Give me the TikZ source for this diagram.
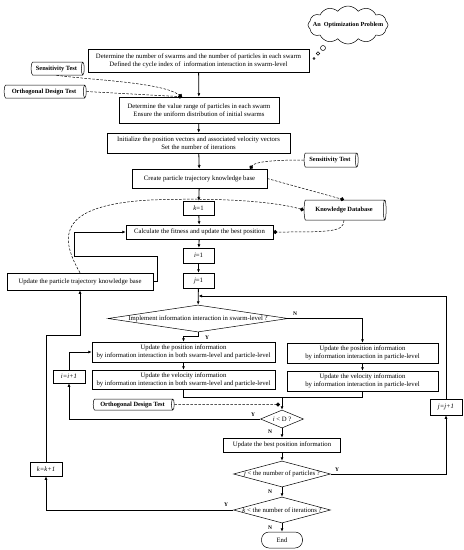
\documentclass[tikz,border=0pt]{standalone}
\usepackage{fontspec}
\setmainfont{Liberation Serif}
\usetikzlibrary{shapes.geometric,shapes.symbols,arrows.meta,calc}
\begin{document}
\begin{tikzpicture}[x=1pt,y=-1pt,
  txt/.style={font=\fontsize{6.7}{7.8}\selectfont},
  box/.style={draw, line width=0.5pt, inner sep=1pt, align=center, txt},
  dec/.style={draw, diamond, inner sep=0pt, line width=0.5pt},
  cyl/.style={draw, cylinder, shape border rotate=0, aspect=0.35, inner sep=1pt, line width=0.5pt, font=\bfseries\fontsize{6.4}{7}\selectfont},
  flow/.style={line width=0.8pt, -{Latex[length=3.5pt,width=3pt]}},
  plain/.style={line width=0.8pt},
  dashconn/.style={line width=0.5pt, dash pattern=on 2.5pt off 1.5pt, -{Circle[length=4pt]}},
  lab/.style={font=\bfseries\fontsize{5.5}{6}\selectfont, inner sep=0pt}
]
\useasboundingbox (0,0) rectangle (464,550);

% cloud
\node[cloud, draw, cloud puffs=12, cloud puff arc=110, aspect=2.1, inner sep=0pt, minimum width=80pt, minimum height=38pt, line width=0.5pt, label={[font=\bfseries\fontsize{6.2}{7}\selectfont]center:An\ \ Optimization Problem}] (cloud) at (348,25) {};
\node[circle, draw, line width=0.5pt, minimum size=5pt, inner sep=0pt] (bb1) at (323,48) {};
\node[circle, draw, line width=0.5pt, minimum size=3.5pt, inner sep=0pt] (bb2) at (318,53.5) {};
\node[circle, draw, line width=0.5pt, minimum size=2pt, inner sep=0pt] (bb3) at (314,58.5) {};

% main boxes
\node[box, minimum width=221pt, minimum height=23pt] (b1) at (198.5,60.5) {Determine the number of swarms and the number of particles in each swarm\\Defined the cycle index of\ \ information interaction in swarm-level};
\node[box, minimum width=160pt, minimum height=26pt] (b2) at (199,110) {Determine the value range of particles in each swarm\\Ensure the uniform distribution of initial swarms};
\node[box, minimum width=183pt, minimum height=20pt] (b3) at (198.5,143) {Initialize the position vectors and associated velocity vectors\\Set the number of iterations};
\node[box, minimum width=135pt, minimum height=19pt] (b4) at (199.5,178.5) {Create particle trajectory knowledge base};
\node[box, minimum width=31pt, minimum height=14pt] (k1) at (198.5,208) {\textit{k}=1};
\node[box, minimum width=147pt, minimum height=14pt] (calc) at (199.5,232) {Calculate the fitness and update the best position};
\node[box, minimum width=31pt, minimum height=15pt] (i1) at (198.5,255.5) {\textit{i}=1};
\node[box, minimum width=31pt, minimum height=15pt] (j1) at (198.5,280.5) {\textit{j}=1};
\node[box, minimum width=146pt, minimum height=17pt] (upd) at (80,281.5) {Update the particle trajectory knowledge base};

\node[dec, minimum width=180pt, minimum height=27pt, label={[txt]center:Implement information interaction in swarm-level ?}] (d1) at (198,318.5) {};

\node[box, minimum width=183pt, minimum height=20pt] (A) at (183.5,352) {Update the position information\\by information interaction in both swarm-level and particle-level};
\node[box, minimum width=183pt, minimum height=19pt] (B) at (183.5,379.5) {Update the velocity information\\by information interaction in both swarm-level and particle-level};
\node[box, minimum width=151pt, minimum height=20pt] (C) at (362.5,353) {Update the position information\\by information interaction in particle-level};
\node[box, minimum width=151pt, minimum height=20pt] (D) at (362.5,381) {Update the velocity information\\by information interaction in particle-level};

\node[box, minimum width=32pt, minimum height=13pt] (ii) at (69,376.5) {\textit{i=i+1}};
\node[dec, minimum width=43pt, minimum height=18pt, label={[txt]center:\textit{i} < D ?}] (d2) at (282,419) {};
\node[box, minimum width=117pt, minimum height=14pt] (best) at (282,445) {Update the best position information};
\node[dec, minimum width=97pt, minimum height=26pt, label={[txt]center:\textit{j} < the number of particles ?}] (d3) at (282,474) {};
\node[box, minimum width=32pt, minimum height=16pt] (jj) at (446,407) {\textit{j=j+1}};
\node[dec, minimum width=97pt, minimum height=26pt, label={[txt]center:\textit{k} < the number of iterations ?}] (d4) at (282,510) {};
\node[box, minimum width=32pt, minimum height=14pt] (kk) at (46,469) {\textit{k=k+1}};
\node[draw, line width=0.5pt, rounded corners=7.5pt, minimum width=41pt, minimum height=16pt, txt] (endn) at (282,540) {End};

% cylinders
\node[cyl, minimum height=53pt, minimum width=13pt] (sens1) at (56.5,68.5) {Sensitivity Test};
\node[cyl, minimum height=82pt, minimum width=13pt] (orth1) at (44,91.5) {Orthogonal Design Test};
\node[cyl, minimum height=54pt, minimum width=14pt] (sens2) at (330,160) {Sensitivity Test};
\node[cyl, minimum height=82pt, minimum width=20pt] (kd) at (344,210) {Knowledge Database};
\node[cyl, minimum height=81pt, minimum width=11pt] (orth2) at (132.5,404.5) {Orthogonal Design Test};

% coordinates
\coordinate (jn) at (198.5,296);
\coordinate (mg) at (282,397);
\coordinate (dt2) at ($(b2.north)+(-17,0)$);
\coordinate (dt4) at ($(b4.north)+(50.5,0)$);
\coordinate (kdt) at (kd.north);
\coordinate (odt) at (280,404.5);

% main flow
\draw[flow] (b1) -- (b2);
\draw[flow] (b2) -- (b3);
\draw[flow] (b3) -- (b4);
\draw[flow] (b4) -- (k1);
\draw[flow] (k1) -- (calc);
\draw[flow] (calc) -- (i1);
\draw[flow] (i1) -- (j1);
\draw[flow] (j1) -- (d1);
\draw[flow] (d1.east) -| (C.north);
\draw[flow] (d1.south) -- ++(0,4) -| (A.north);
\draw[flow] (A) -- (B);
\draw[flow] (C) -- (D);
\draw[plain] (B.south) |- (mg);
\draw[plain] (D.south) |- (mg);
\draw[flow] (mg) -- (d2.north);
\draw[flow] (d2.west) -| (ii.south);
\draw[flow] (ii.north) |- (A.west);
\draw[flow] (d2) -- (best);
\draw[flow] (best) -- (d3);
\draw[flow] (d3.east) -| (jj.south);
\draw[flow] (jj.north) |- (jn);
\draw[flow] (d3) -- (d4);
\draw[flow] (d4) -- (endn);
\draw[flow] (d4.west) -| (kk.south);
\draw[flow] (kk.north) |- ($(upd.south)+(0,45)$) -- (upd.south);
\draw[flow] (upd.east) -- ++(4,0) -- ++(0,-25.5) -- (74,256) |- (calc.west);

% labels
\node[lab] (ln1) at (295,314) {N};
\node[lab] (ly1) at (207,337.5) {Y};
\node[lab] (ly2) at (253,415) {Y};
\node[lab] (ln2) at (270,432) {N};
\node[lab] (ly3) at (337,469.5) {Y};
\node[lab] (ln3) at (270,492) {N};
\node[lab] (ly4) at (226,505) {Y};
\node[lab] (ln4) at (270,527.5) {N};

% dashed connections
\draw[dashconn] (sens1.south) .. controls (90,80) and (160,82) .. (dt2);
\draw[dashconn] (orth1.east) -- (dt2);
\draw[dashconn] (sens2.west) .. controls (270,160) and (255,162) .. (dt4);
\draw[dashconn] (b4.east) -- (kdt);
\draw[dashconn] (upd.north) .. controls (58,235) and (60,205) .. (150,200) .. controls (230,197) and (280,203) .. (kd.west);
\draw[dashconn] (kd.south) .. controls (344,232) and (330,232) .. (calc.east);
\draw[dashconn] (orth2.east) -- (odt);
\end{tikzpicture}
\end{document}
